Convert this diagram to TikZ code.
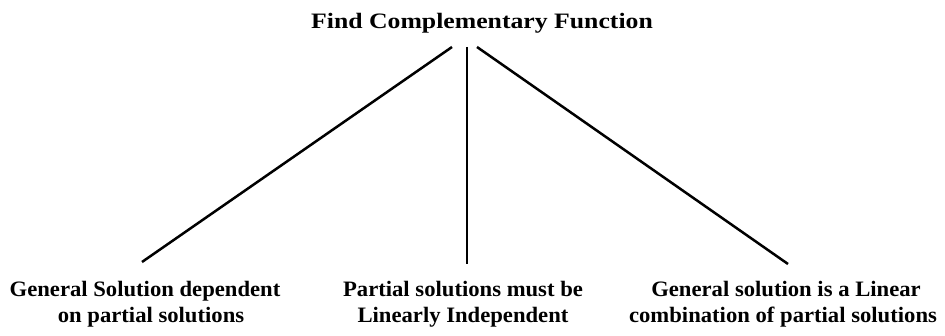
\documentclass[tikz,border=0pt]{standalone}
\usepackage{fontspec}
\setmainfont{Liberation Serif}
\newfontfamily\titlefont[FakeStretch=1.17]{Liberation Serif}
\newfontfamily\labelfont[FakeStretch=1.03]{Liberation Serif}
\begin{document}
\begin{tikzpicture}[x=1pt,y=-1pt,
  lbl/.style={font=\labelfont\fontsize{22}{25}\selectfont\bfseries, inner sep=0pt, anchor=base},
  ttl/.style={font=\titlefont\fontsize{22}{25}\selectfont\bfseries, inner sep=0pt, anchor=base},
  conn/.style={line width=2.5pt}]
\useasboundingbox (0,0) rectangle (945,336);
\node[ttl] (title) at (482,29) {Find Complementary Function};
\coordinate (tl) at (452,47);
\coordinate (tm) at (467,47);
\coordinate (tr) at (477,47);
\coordinate (el) at (142,262);
\coordinate (em) at (467,264);
\coordinate (er) at (788,264);
\draw[conn] (tl) -- (el);
\draw[conn] (tm) -- (em);
\draw[conn] (tr) -- (er);
\node[lbl] (a1) at (145,297) {General Solution dependent};
\node[lbl] (a2) at (151,323) {on partial solutions};
\node[lbl] (b1) at (463,297) {Partial solutions must be};
\node[lbl] (b2) at (463,323) {Linearly Independent};
\node[lbl] (c1) at (786,297) {General solution is a Linear};
\node[lbl] (c2) at (783,323) {combination of partial solutions};
\end{tikzpicture}
\end{document}
